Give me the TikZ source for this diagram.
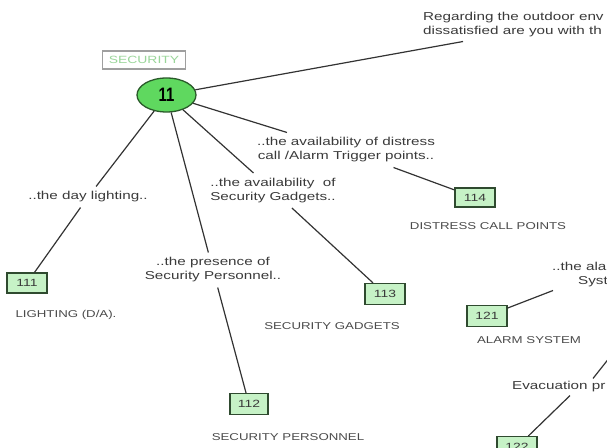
\documentclass[tikz,border=0pt]{standalone}
\usepackage{fontspec}
\usepackage{graphicx}
\setmainfont[FakeStretch=1.33]{Liberation Sans}
\newfontfamily\plainsans{Liberation Sans}
\usetikzlibrary{shapes.geometric}
\definecolor{txt}{HTML}{3A3A3A}
\definecolor{captxt}{HTML}{4A4A4A}
\definecolor{linec}{HTML}{333333}
\definecolor{boxfill}{HTML}{C6F2C6}
\definecolor{boxborder}{HTML}{2F4A2F}
\definecolor{ellfill}{HTML}{5FD85F}
\definecolor{ellborder}{HTML}{2A5A2A}
\definecolor{secgreen}{HTML}{9AD69A}
\begin{document}
\begin{tikzpicture}[x=1bp,y=-1bp,
  lab/.style={font=\fontsize{11.5}{14}\selectfont, text=txt, align=center, inner sep=5bp},
  captext/.style={font=\fontsize{10}{12}\selectfont, text=captxt, inner sep=0pt},
  numbox/.style={draw=boxborder, fill=boxfill, line width=1.1bp, minimum width=38bp, minimum height=21bp, inner sep=0pt, font=\fontsize{10.5}{12}\selectfont, text=txt},
  conn/.style={draw=linec, line width=1.2bp}]
\useasboundingbox (0,0) rectangle (607,448);
\clip (0,0) rectangle (607,448);

% title box and central node
\node[draw=gray!75, line width=1.2bp, fill=white, minimum width=83bp, minimum height=18bp, inner sep=0pt, font=\fontsize{10.5}{12}\selectfont, text=secgreen] (sec) at (144,60) {SECURITY};
\node[ellipse, draw=ellborder, fill=ellfill, line width=1.3bp, minimum width=59bp, minimum height=34bp, inner sep=0pt] (ell) at (166.5,95) {\plainsans\bfseries\fontsize{15}{16}\selectfont\scalebox{1}[1.3]{11}};

% question labels
\node[lab] (l111) at (88,197) {..the day lighting..};
\node[lab] (l112) at (213,270) {..the presence of\\Security Personnel..};
\node[lab] (l113) at (273,190.5) {..the availability\ \ of\\Security Gadgets..};
\node[lab] (l114) at (346,150) {..the availability of distress\\call /Alarm Trigger points..};
\node[lab, align=left, anchor=west, inner sep=3bp] (lq) at (420,25) {Regarding the outdoor env\\dissatisfied are you with th};
\node[lab, align=left, anchor=west, inner sep=3bp] (lal) at (549,275) {..the ala\\\hspace*{26bp}Syst};
\node[lab, anchor=west, inner sep=3bp] (lev) at (509,387) {Evacuation pr};

% number boxes
\node[numbox, minimum width=40bp, minimum height=20bp] (b111) at (27,283) {111};
\node[numbox] (b112) at (249,404) {112};
\node[numbox, minimum width=40bp] (b113) at (385,294) {113};
\node[numbox, minimum width=40bp, minimum height=19bp] (b114) at (475,197.5) {114};
\node[numbox, minimum width=40bp] (b121) at (487,316) {121};
\node[numbox, minimum width=40bp] (b122) at (517,447) {122};

% captions
\node[captext] (c111) at (66,315) {LIGHTING (D/A).};
\node[captext] (c112) at (288,437) {SECURITY PERSONNEL};
\node[captext] (c113) at (332,326) {SECURITY GADGETS};
\node[captext] (c114) at (488,226) {DISTRESS CALL POINTS};
\node[captext] (c121) at (529,340) {ALARM SYSTEM};

\coordinate (e12) at (629,333);

% connectors
\draw[conn] (ell) -- ([xshift=43bp,yshift=-1bp]lq.south west);
\draw[conn] (ell) -- ([xshift=-59bp]l114.north);
\draw[conn] (l114) -- (b114);
\draw[conn] (ell) -- (l113);
\draw[conn] (l113) -- (b113);
\draw[conn] (ell) -- (l112);
\draw[conn] (l112) -- (b112);
\draw[conn] (ell) -- (l111);
\draw[conn] (l111) -- (b111);
\draw[conn] (b121) -- ([xshift=4bp]lal.south west);
\draw[conn] ([xshift=84bp]lev.north west) -- (e12);
\draw[conn] ([xshift=61bp]lev.south west) -- (b122);
\end{tikzpicture}
\end{document}
